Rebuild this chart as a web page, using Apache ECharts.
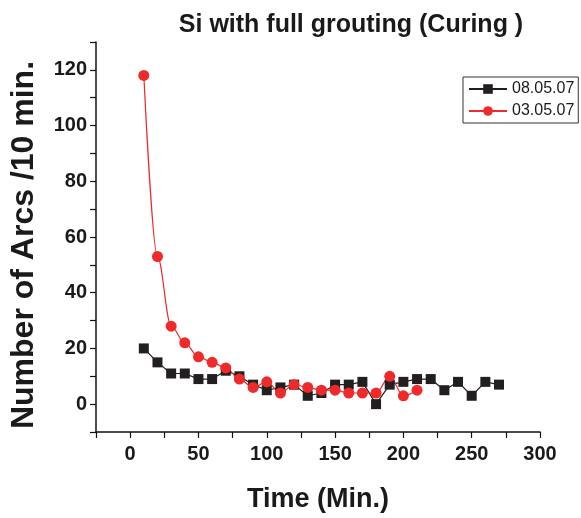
<!DOCTYPE html>
<html>
<head>
<meta charset="utf-8">
<style>
  html, body { margin: 0; padding: 0; background: #fff; }
  #root { width: 581px; height: 518px; }
</style>
<script src="https://cdn.jsdelivr.net/npm/echarts@6/dist/echarts.min.js"></script>
</head>
<body>
<div id="root"></div>
<script>
// 08.05.07 run
const timeA = [10, 20, 30, 40, 50, 60, 70, 80, 90, 100, 110, 120, 130, 140, 150, 160, 170, 180, 190, 200, 210, 220, 230, 240, 250, 260, 270];
const arcsA = [20, 15, 11, 11, 9, 9, 12, 10, 7, 5, 6, 7, 3, 4, 7, 7, 8, 0, 7, 8, 9, 9, 5, 8, 3, 8, 7];
// 03.05.07 run
const timeB = [10, 20, 30, 40, 50, 60, 70, 80, 90, 100, 110, 120, 130, 140, 150, 160, 170, 180, 190, 200, 210];
const arcsB = [118, 53, 28, 22, 17, 15, 13, 9, 6, 8, 4, 7, 6, 5, 5, 4, 4, 4, 10, 3, 5];

const xLabels = [0, 50, 100, 150, 200, 250, 300];
const yLabels = [0, 20, 40, 60, 80, 100, 120];

const font = "'Liberation Sans', Arial, sans-serif";
const zip = (xs, ys) => xs.map((x, i) => [x, ys[i]]);

const chart = echarts.init(document.getElementById("root"));

const axisCommon = {
  axisLine: { show: true, onZero: false, lineStyle: { color: "#111", width: 1.5 } },
  axisTick: { show: true, inside: false, length: 6, lineStyle: { color: "#111", width: 1.2 } },
  splitLine: { show: false },
  nameLocation: "middle",
  nameTextStyle: { fontFamily: font, fontWeight: "bold", color: "#1a1a1a" },
};

chart.setOption({
  animation: false,
  backgroundColor: "#fff",
  title: {
    text: "Si with full grouting (Curing )",
    left: 346,
    top: 8,
    textAlign: "center",
    textStyle: { fontFamily: font, fontWeight: "bold", fontSize: 25, color: "#1a1a1a" },
  },
  legend: {
    left: 463,
    top: 77,
    orient: "vertical",
    padding: [4, 4, 4, 5],
    itemGap: 6,
    itemWidth: 38,
    itemHeight: 12,
    borderColor: "#333",
    borderWidth: 1,
    textStyle: { fontFamily: font, fontSize: 16, color: "#1a1a1a" },
    data: ["08.05.07", "03.05.07"],
  },
  grid: { left: 96, right: 41, top: 42, bottom: 85 },
  xAxis: Object.assign({}, axisCommon, {
    type: "value",
    min: -25,
    max: 300,
    interval: 25,
    name: "Time (Min.)",
    nameGap: 54,
    nameTextStyle: Object.assign({}, axisCommon.nameTextStyle, { fontSize: 27 }),
    axisLabel: {
      margin: 12,
      fontFamily: font,
      fontWeight: "bold",
      fontSize: 20,
      color: "#1a1a1a",
      formatter: (v) => (xLabels.includes(v) ? String(v) : ""),
    },
  }),
  yAxis: Object.assign({}, axisCommon, {
    type: "value",
    min: -10,
    max: 130,
    interval: 10,
    name: "Number of Arcs /10 min.",
    nameGap: 56,
    nameTextStyle: Object.assign({}, axisCommon.nameTextStyle, { fontSize: 32, padding: [0, 16, 0, 0] }),
    axisLabel: {
      margin: 9,
      fontFamily: font,
      fontWeight: "bold",
      fontSize: 20,
      color: "#1a1a1a",
      formatter: (v) => (yLabels.includes(v) ? String(v) : ""),
    },
  }),
  series: [
    {
      name: "08.05.07",
      type: "line",
      data: zip(timeA, arcsA),
      symbol: "rect",
      symbolSize: 10,
      itemStyle: { color: "#231f20" },
      lineStyle: { color: "#231f20", width: 1.2 },
    },
    {
      name: "03.05.07",
      type: "line",
      data: zip(timeB, arcsB),
      symbol: "circle",
      symbolSize: 11,
      smooth: 0.35,
      smoothMonotone: "x",
      itemStyle: { color: "#ee2a2a" },
      lineStyle: { color: "#ee2a2a", width: 1.2 },
    },
  ],
});
</script>
</body>
</html>
